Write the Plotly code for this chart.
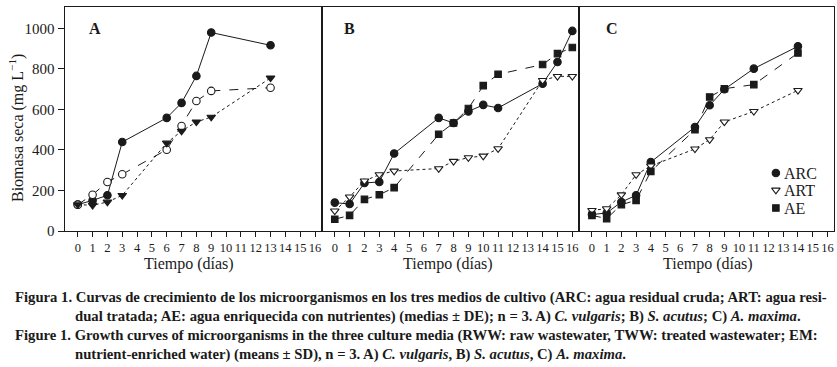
import plotly.graph_objects as go

W, H = 837, 367

# ---------------- data ----------------
days_A = [0, 1, 2, 3, 6, 7, 8, 9, 13]
A_ARC = [130, 151, 176, 439, 558, 632, 765, 979, 916]
A_ART = [130, 179, 242, 280, 401, 518, 641, 691, 707]
A_AE = [130, 127, 143, 176, 434, 493, 538, 562, 755]

days_B = [0, 1, 2, 3, 4, 7, 8, 9, 10, 11, 14, 15, 16]
B_ARC = [140, 133, 237, 242, 382, 558, 533, 590, 622, 607, 727, 834, 987]
B_ART = [99, 168, 247, 278, 296, 308, 344, 362, 370, 406, 743, 763, 763]
B_AE = [58, 77, 156, 179, 214, 477, 533, 604, 717, 773, 821, 875, 905]

days_C = [0, 1, 2, 3, 4, 7, 8, 9, 11, 14]
C_ARC = [81, 89, 143, 176, 340, 513, 620, 699, 801, 911]
C_ART = [102, 110, 179, 278, 321, 405, 451, 538, 590, 694]
C_AE = [77, 61, 130, 151, 294, 500, 661, 702, 722, 878]

x_ticks = list(range(0, 17))
y_ticks = [0, 200, 400, 600, 800, 1000]
panel_labels = ["A", "B", "C"]
series_names = ["ARC", "ART", "AE"]

x_title = "Tiempo (días)"
y_title = "Biomasa seca (mg L<sup>−1</sup>)"

caption_lines = [
    "Figura 1. Curvas de crecimiento de los microorganismos en los tres medios de cultivo (ARC: agua residual cruda; ART: agua resi-",
    "dual tratada; AE: agua enriquecida con nutrientes) (medias ± DE); n = 3. A) <i>C. vulgaris</i>; B) <i>S. acutus</i>; C) <i>A. maxima</i>.",
    "Figure 1. Growth curves of microorganisms in the three culture media (RWW: raw wastewater, TWW: treated wastewater; EM:",
    "nutrient-enriched water) (means ± SD), n = 3. A) <i>C. vulgaris</i>, B) <i>S. acutus</i>, C) <i>A. maxima</i>.",
]

# ---------------- layout helpers ----------------
def px_x(p):
    return p / W

def px_y(p):
    return 1 - p / H

INK = "#1a1a1a"
SERIF = "Liberation Serif"

domains = [
    [px_x(64.7), px_x(321.7)],
    [px_x(321.7), px_x(579)],
    [px_x(579), px_x(834)],
]
ydom = [px_y(231), px_y(7)]

fig = go.Figure()

# (symbol, filled?)
panels = [
    (days_A, A_ARC, A_ART, A_AE, (("circle", True), ("circle", False), ("triangle-down", True)), ("solid", "dash", "dot")),
    (days_B, B_ARC, B_ART, B_AE, (("circle", True), ("triangle-down", False), ("square", True)), ("solid", "dot", "dash")),
    (days_C, C_ARC, C_ART, C_AE, (("circle", True), ("triangle-down", False), ("square", True)), ("solid", "dot", "dash")),
]

def msize(sym):
    if sym == "circle":
        return 7.5
    if sym == "square":
        return 6.5
    return 7.5

def mk(sym, filled):
    return dict(symbol=sym, size=msize(sym), color=INK if filled else "white",
                line=dict(color=INK, width=1.1))

for i, (d, s1, s2, s3, syms, dashes) in enumerate(panels):
    xa = "x" if i == 0 else f"x{i+1}"
    ya = "y" if i == 0 else f"y{i+1}"
    for vals, (sym, filled), dash in zip((s1, s2, s3), syms, dashes):
        fig.add_trace(go.Scatter(
            x=d, y=vals, xaxis=xa, yaxis=ya, mode="lines+markers",
            line=dict(color=INK, width=1.0, dash=dash),
            marker=mk(sym, filled),
            showlegend=False, hoverinfo="skip", cliponaxis=False,
        ))

# legend markers in panel C (placed in data units of panel C)
leg_x = 12.5
leg_pix = [173, 190, 208]
leg_syms = [("circle", True), ("triangle-down", False), ("square", True)]
for yp, (sym, filled) in zip(leg_pix, leg_syms):
    fig.add_trace(go.Scatter(
        x=[leg_x], y=[(231 - yp) / 0.2027], xaxis="x3", yaxis="y3", mode="markers",
        marker=mk(sym, filled),
        showlegend=False, hoverinfo="skip", cliponaxis=False,
    ))

layout = dict(
    width=W, height=H,
    margin=dict(l=0, r=0, t=0, b=0, autoexpand=False),
    paper_bgcolor="white", plot_bgcolor="white",
    font=dict(family=SERIF, color=INK),
    showlegend=False,
)

for i in range(3):
    xk = "xaxis" if i == 0 else f"xaxis{i+1}"
    yk = "yaxis" if i == 0 else f"yaxis{i+1}"
    layout[xk] = dict(
        domain=domains[i], range=[-0.88, 16.45], anchor="y" if i == 0 else f"y{i+1}",
        tickmode="array", tickvals=x_ticks, ticktext=[str(t) for t in x_ticks],
        tickangle=0, automargin=False, ticklabeloverflow="allow",
        ticks="outside", ticklen=5, tickwidth=1, tickcolor=INK,
        showline=True, linecolor=INK, linewidth=1.2, mirror=True,
        showgrid=False, zeroline=False,
        tickfont=dict(family=SERIF, size=12.5, color=INK),
    )
    layout[yk] = dict(
        domain=ydom, range=[0, 1105], anchor="x" if i == 0 else f"x{i+1}",
        tickmode="array", tickvals=y_ticks, automargin=False,
        ticks="outside" if i == 0 else "", ticklen=6, tickwidth=1, tickcolor=INK,
        showticklabels=(i == 0),
        showline=True, linecolor=INK, linewidth=1.2, mirror=True,
        showgrid=False, zeroline=False,
        tickfont=dict(family=SERIF, size=15, color=INK),
    )

annotations = []
# panel letters
letter_pos = [95, 349, 612]
for lab, xp in zip(panel_labels, letter_pos):
    annotations.append(dict(
        x=px_x(xp), y=px_y(29), xref="paper", yref="paper", text=f"<b>{lab}</b>",
        showarrow=False, xanchor="center", yanchor="middle",
        font=dict(family=SERIF, size=16, color=INK)))
# legend labels
for name, yp in zip(series_names, leg_pix):
    annotations.append(dict(
        x=px_x(782), y=px_y(yp), xref="paper", yref="paper", text=name,
        showarrow=False, xanchor="left", yanchor="middle",
        font=dict(family=SERIF, size=16, color=INK)))
# x titles
for xc in [189, 448, 708]:
    annotations.append(dict(
        x=px_x(xc), y=px_y(264), xref="paper", yref="paper", text=x_title,
        showarrow=False, xanchor="center", yanchor="middle",
        font=dict(family=SERIF, size=16, color=INK)))
# y title
annotations.append(dict(
    x=px_x(16), y=px_y(128), xref="paper", yref="paper", text=y_title,
    showarrow=False, xanchor="center", yanchor="middle", textangle=-90,
    font=dict(family=SERIF, size=16, color=INK)))
# caption
cap_x = [13, 73, 13, 73]
cap_y = [297, 316, 335, 354]
for t, xp, yp in zip(caption_lines, cap_x, cap_y):
    annotations.append(dict(
        x=px_x(xp), y=px_y(yp), xref="paper", yref="paper", text=f"<b>{t}</b>",
        showarrow=False, xanchor="left", yanchor="middle", align="left",
        font=dict(family=SERIF, size=14.7, color=INK)))

layout["annotations"] = annotations
fig.update_layout(**layout)
fig.write_html(
    "out.html",
    config={"displayModeBar": False},
    post_script="document.body.style.margin='0';document.body.style.padding='0';document.body.style.overflow='hidden';",
)
